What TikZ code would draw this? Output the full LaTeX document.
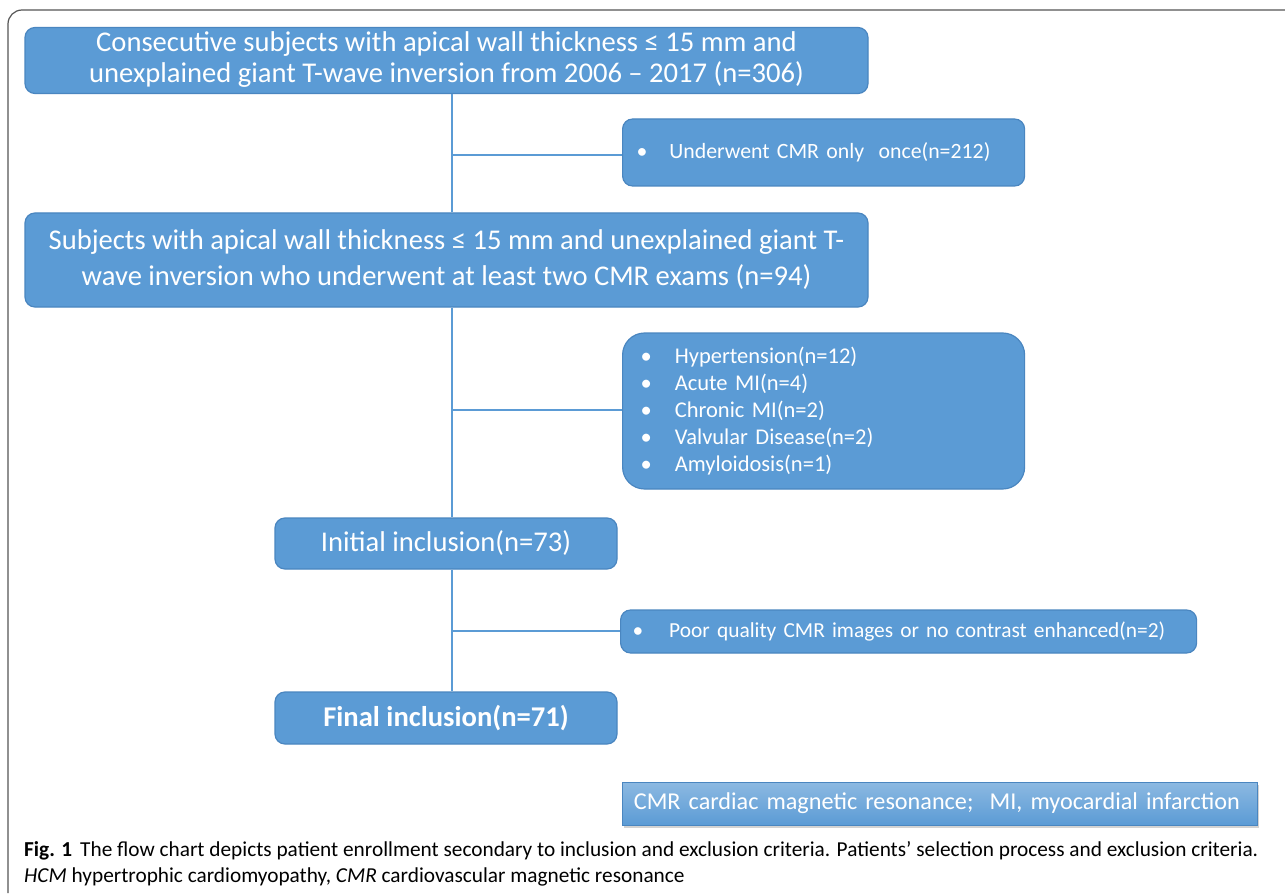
\documentclass[tikz,border=0pt]{standalone}
\usepackage{fontspec}
\setmainfont{Carlito}
\usetikzlibrary{shadows}
\definecolor{boxblue}{HTML}{5B9BD5}
\definecolor{boxedge}{HTML}{4A86C0}
\definecolor{frameg}{HTML}{555555}
\tikzset{
  flowbox/.style={draw=boxedge, fill=boxblue, line width=1.2pt, rounded corners=10pt, text=white, align=center, inner sep=0pt},
  exbox/.style={draw=boxedge, fill=boxblue, line width=1.2pt, rounded corners=10pt, text=white, align=left, inner sep=0pt},
  link/.style={draw=boxblue, line width=2.5pt},
}
\begin{document}
\begin{tikzpicture}[x=1pt,y=-1pt]
\useasboundingbox (0,0) rectangle (1285,896);
\fill[white] (0,0) rectangle (1285,896);
\draw[frameg, line width=1.2pt, rounded corners=14pt] (8,893) -- (8,10) -- (1290,10);
% boxes
\node[flowbox, minimum width=843pt, minimum height=66pt, font=\fontsize{28.6}{31}\selectfont] (a) at (446.5,60.5)
  {\raisebox{-2pt}{\begin{tabular}{@{}c@{}}Consecutive subjects with apical wall thickness ≤ 15 mm and\\unexplained giant T-wave inversion from 2006 – 2017 (n=306)\end{tabular}}};
\node[exbox, minimum width=402pt, minimum height=67pt, font=\fontsize{21.8}{24}\selectfont, anchor=west, text width=390pt] (b) at (622,152.5)
  {\hspace*{8pt}•\hspace{22pt}Underwent CMR only\ \ once(n=212)};
\node[flowbox, minimum width=843pt, minimum height=94pt, font=\fontsize{28.6}{36}\selectfont] (c) at (446.5,260)
  {\raisebox{-3pt}{\begin{tabular}{@{}c@{}}Subjects with apical wall thickness ≤ 15 mm and unexplained giant T-\\wave inversion who underwent at least two CMR exams (n=94)\end{tabular}}};
\node[exbox, rounded corners=22pt, minimum width=402pt, minimum height=156pt, font=\fontsize{22.5}{26.8}\selectfont, anchor=west, text width=390pt] (d) at (622,411)
  {\hspace*{12pt}•\hspace{23pt}Hypertension(n=12)\\
   \hspace*{12pt}•\hspace{23pt}Acute MI(n=4)\\
   \hspace*{12pt}•\hspace{23pt}Chronic MI(n=2)\\
   \hspace*{12pt}•\hspace{23pt}Valvular Disease(n=2)\\
   \hspace*{12pt}•\hspace{23pt}Amyloidosis(n=1)};
\node[flowbox, minimum width=342pt, minimum height=51pt, font=\fontsize{28.6}{31}\selectfont] (e) at (446,543.5)
  {Initial inclusion(n=73)};
\node[exbox, minimum width=576pt, minimum height=43pt, font=\fontsize{21.4}{24}\selectfont, anchor=west, text width=570pt] (f) at (620,631.5)
  {\hspace*{9pt}•\hspace{26pt}Poor quality CMR images or no contrast enhanced(n=2)};
\node[flowbox, minimum width=342pt, minimum height=52pt, font=\fontsize{28.6}{31}\selectfont\bfseries] (g) at (446,718)
  {Final inclusion(n=71)};
\node[draw=boxedge, line width=0.8pt, top color=boxblue!70!white, bottom color=boxblue, text=white,
      minimum width=635pt, minimum height=43pt, font=\fontsize{24.2}{26}\selectfont, anchor=west,
      align=left, text width=630pt, inner sep=0pt,
      drop shadow={shadow xshift=2pt, shadow yshift=-3pt, opacity=0.35}] (h) at (622,803.5)
  {\hspace*{9pt}CMR cardiac magnetic resonance;\ \ MI, myocardial infarction};
% connectors
\coordinate (j1) at (452,155);
\coordinate (j2) at (452,410);
\coordinate (j3) at (452,631);
\draw[link] (a.south -| j1) -- (c.north -| j1);
\draw[link] (j1) -- (b.west |- j1);
\draw[link] (c.south -| j2) -- (e.north -| j2);
\draw[link] (j2) -- (d.west |- j2);
\draw[link] (e.south -| j3) -- (g.north -| j3);
\draw[link] (j3) -- (f.west |- j3);
% caption
\node[anchor=west, font=\fontsize{21.3}{24}\selectfont, inner sep=0pt] (cap1) at (24,851)
  {\textbf{Fig. 1}\hspace{8pt}The flow chart depicts patient enrollment secondary to inclusion and exclusion criteria. Patients’ selection process and exclusion criteria.};
\node[anchor=west, font=\fontsize{21.3}{24}\selectfont, inner sep=0pt] (cap2) at (24,877)
  {\textit{HCM} hypertrophic cardiomyopathy, \textit{CMR} cardiovascular magnetic resonance};
\end{tikzpicture}
\end{document}
